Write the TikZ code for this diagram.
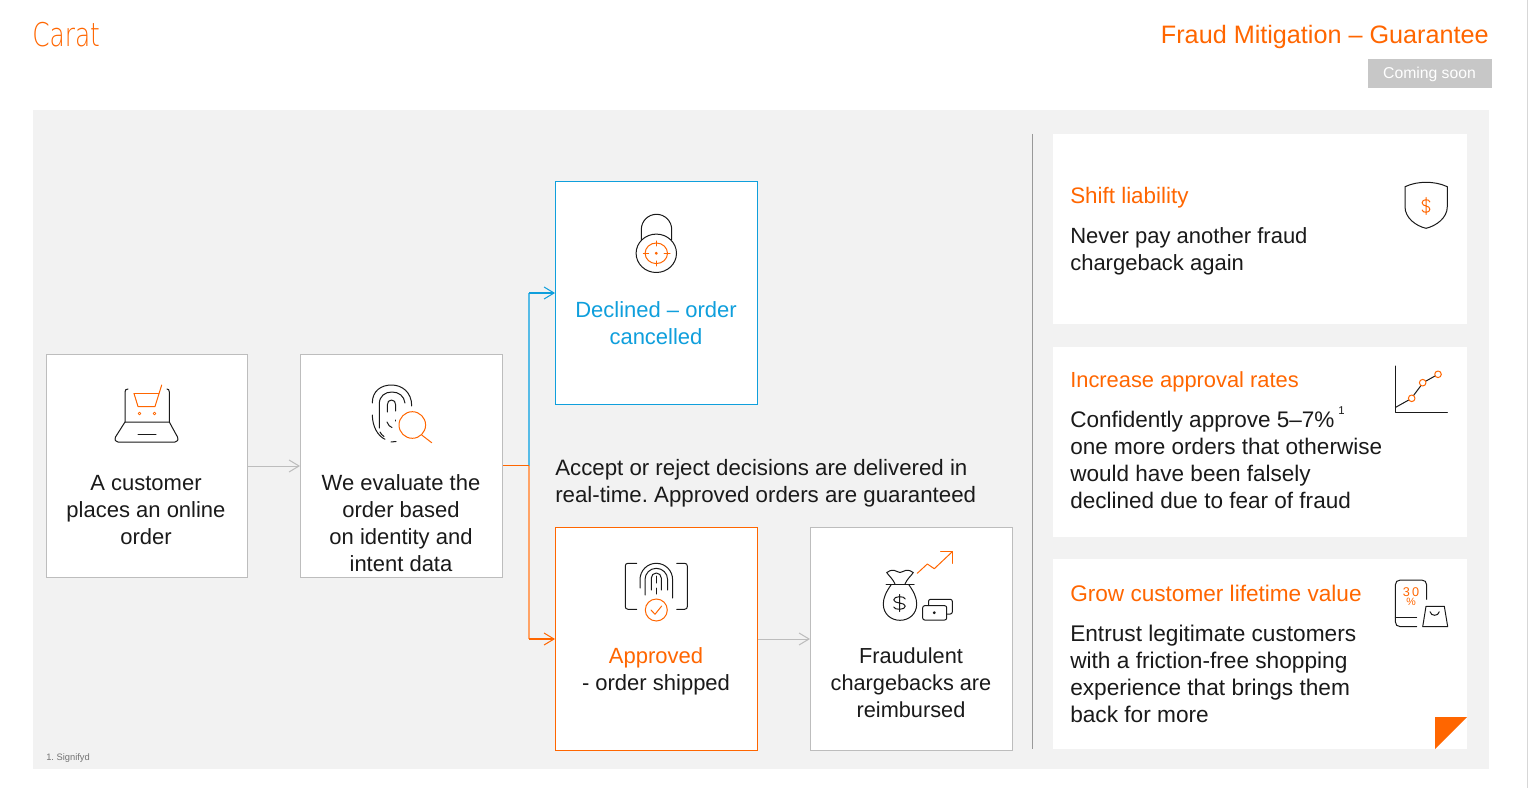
\documentclass[tikz,border=0pt]{standalone}
\usepackage{fontspec}
\setmainfont{Liberation Sans}
\newfontfamily\logofont{DejaVu Sans ExtraLight}
\usetikzlibrary{arrows.meta}
\frenchspacing
\definecolor{carat}{HTML}{FF6600}
\definecolor{sky}{HTML}{0F9FDC}
\definecolor{panel}{HTML}{F2F2F2}
\definecolor{edge}{HTML}{BDBDBD}
\definecolor{ink}{HTML}{1A1A1A}
\newcommand\fs[1]{\fontsize{#1}{20.25}\selectfont}
\newcommand\dollarmark[4]{\draw[#1,shift={(#2)},xscale=#3,yscale=#4] (4.3,-4) .. controls (3.8,-7.2) and (-4.3,-7.2) .. (-4.3,-3.2) .. controls (-4.3,1) and (4.3,-1) .. (4.3,3.2) .. controls (4.3,7.2) and (-3.8,7.2) .. (-4.3,4) (0,-8.5) -- (0,8.5);}
\tikzset{
  x=0.75pt,y=-0.75pt,
  card/.style={draw=#1,fill=white,line width=0.75pt,minimum width=151.5pt,minimum height=167.25pt,inner sep=0pt},
  side/.style={fill=white,minimum width=310.5pt,minimum height=142.5pt,inner sep=0pt},
  body/.style={text=ink,font=\fs{16.5},align=center,inner sep=0pt},
  note/.style={text=ink,font=\fs{16.5},align=left,anchor=west,inner sep=0pt},
  head/.style={text=carat,font=\fs{16.5},anchor=west,inner sep=0pt},
  link/.style={line width=0.9pt,-{Straight Barb[length=7.5pt,width=9pt,line width=0.75pt]}},
  greylink/.style={line width=0.75pt,-{Straight Barb[length=7.5pt,width=9pt,line width=0.75pt]}},
  riser/.style={line width=1.4pt},
  ico/.style={draw=ink,line width=0.75pt,line cap=round,line join=round},
  oico/.style={draw=carat,line width=0.75pt,line cap=round,line join=round},
}
\begin{document}
\begin{tikzpicture}
\useasboundingbox (0,0) rectangle (1529,788);
\fill[white] (0,0) rectangle (1529,788);
\draw[edge!60,line width=0.75pt] (1527,0) -- (1527,788);
\fill[panel] (33,110) rectangle (1489,769);
% header
\node[text=carat,font=\logofont\fontsize{24.5}{28}\selectfont,anchor=west,inner sep=0pt] (logo) at (32,35) {\scalebox{0.76}[1]{Carat}};
\node[text=carat,font=\fontsize{18.9}{24}\selectfont,anchor=east,inner sep=0pt] (title) at (1489,36.5) {Fraud Mitigation – Guarantee};
\node[fill=black!22,text=white,font=\fontsize{11.8}{14}\selectfont,minimum width=93pt,minimum height=21.75pt,inner sep=0pt] (soonbox) at (1430,73.5) {};
\node[text=white,font=\fontsize{11.8}{14}\selectfont,inner sep=0pt] (soon) at (1429.5,74.5) {Coming soon};
% flow cards
\node[card=edge,minimum width=150.75pt] (order) at (147,466) {};
\node[card=edge] (eval) at (401.5,466) {};
\node[card=sky] (declined) at (656.5,293) {};
\node[card=carat] (approved) at (656.5,639) {};
\node[card=edge] (refund) at (911.5,639) {};
% flow text
\node[body] (t1) at (146,510) {A customer\\places an online\\order};
\node[body] (t2) at (401,523.5) {We evaluate the\\order based\\on identity and\\intent data};
\node[body,text=sky] (t3) at (656,323) {Declined – order\\cancelled};
\node[body] (t4) at (656,671.5) {\textcolor{carat}{Approved}\\- order shipped};
\node[body,font=\fs{16.3}] (t5) at (911,683) {Fraudulent\\chargebacks are\\reimbursed};
\node[note,font=\fs{16.7}] (t6) at (555,483.5) {Accept or reject decisions are delivered in\\real-time. Approved orders are guaranteed};
% connectors
\coordinate (fork) at (529.3,465.5);
\draw[greylink,edge] (order.east) -- (eval.west);
\draw[greylink,edge] (approved.east) -- (refund.west);
\draw[riser,carat!60] (fork) -- (fork|-approved.west);
\draw[link,carat] (fork|-approved.west) -- (approved.west);
\draw[riser,sky!70] (fork) -- (fork|-declined.west);
\draw[link,sky] (fork|-declined.west) -- (declined.west);
\draw[line width=0.9pt,carat] (eval.east|-fork) -- (fork);
% divider
\coordinate (divtop) at (1032.5,134);
\coordinate (divbot) at (1032.5,749);
\draw[black!40,line width=0.75pt] (divtop) -- (divbot);
% side cards
\node[side] (s1) at (1260,229) {};
\node[side] (s2) at (1260,442) {};
\node[side] (s3) at (1260,654) {};
\node[head,font=\fs{16.8}] (h1) at (1070,198) {Shift liability};
\node[note] (n1) at (1070,251.5) {Never pay another fraud\\chargeback again};
\node[head,font=\fs{16.4}] (h2) at (1070,382) {Increase approval rates};
\node[note,font=\fs{16.9}] (n2) at (1070,457.5) {Confidently approve 5–7\%\,\raisebox{1.1ex}{\fontsize{8.5}{10}\selectfont 1}\\one more orders that otherwise\\would have been falsely\\declined due to fear of fraud};
\node[head,font=\fs{16.95}] (h3) at (1070,593) {Grow customer lifetime value};
\node[note,font=\fs{17}] (n3) at (1070,673.5) {Entrust legitimate customers\\with a friction-free shopping\\experience that brings them\\back for more};
\fill[carat] (1435,717) -- (1467,717) -- (1435,749) -- cycle;
\node[text=black!55,font=\fontsize{7}{9}\selectfont,anchor=west,inner sep=0pt] (foot) at (46,758) {1. Signifyd};
% laptop icon
\draw[ico] (125,422) -- (125,392) .. controls (125,390) and (126,389) .. (128,389);
\draw[ico] (169.3,422) -- (169.3,392) .. controls (169.3,390) and (168.5,389) .. (167,389);
\draw[ico] (125,422) -- (169.3,422) -- (177.5,437) .. controls (178.5,440) and (177.5,442) .. (175,442) -- (118,442) .. controls (115.5,442) and (114.5,440) .. (115.5,437) -- cycle;
\draw[ico] (138,434.3) -- (156,434.3);
\draw[oico] (134,393.5) -- (159,393.5);
\draw[oico] (134,393.5) -- (138,406.5) -- (155,406.5) -- (161.7,385);
\draw[oico,line width=0.5pt] (139.5,413.5) circle (1.4);
\draw[oico,line width=0.5pt] (154.5,413.5) circle (1.4);
% fingerprint and lens
\draw[ico] (372.3,403) .. controls (372.3,391) and (381,385) .. (391.5,385) .. controls (402,385) and (411.7,392) .. (411.7,406);
\draw[ico] (372.3,415) .. controls (372.5,427) and (378,436) .. (385,439.3);
\draw[ico] (391,442) -- (396,441.5);
\draw[ico] (379.3,428) -- (379.3,404) .. controls (379.3,396) and (385,392) .. (392,392) .. controls (399,392) and (404,396) .. (405,403);
\draw[ico] (387.3,412) -- (387.3,405) .. controls (387.3,402) and (389,400) .. (391.5,400) .. controls (394,400) and (395.7,402) .. (395.7,405) -- (395.7,411);
\draw[ico] (387,422) .. controls (388,425) and (390,427) .. (392,427.5);
\draw[ico] (380,432) .. controls (381,434) and (382,435) .. (384,436.5);
\draw[ico] (395.7,420) -- (395.7,421);
\draw[oico] (412.3,425) circle (13.3);
\draw[oico] (421.7,435) -- (431.7,442.7);
% padlock
\draw[ico] (641.3,240) -- (641.3,229.5) arc[start angle=180,end angle=360,radius=15.2] -- (671.7,240);
\draw[ico,fill=white] (656.3,253.3) ellipse (20.2 and 19.2);
\draw[oico] (656.3,253.3) ellipse (11.2 and 10.3);
\draw[oico] (656.3,241) -- (656.3,246);
\draw[oico] (656.3,261) -- (656.3,266);
\draw[oico] (643.3,253.3) -- (648.7,253.3);
\draw[oico] (664,253.3) -- (670,253.3);
\draw[oico] (656.3,253.3) circle (1);
% approved fingerprint
\draw[ico] (636.7,563.3) -- (628,563.3) .. controls (626,563.3) and (625.3,564.5) .. (625.3,566) -- (625.3,606.5) .. controls (625.3,608) and (626,609.3) .. (628,609.3) -- (636.7,609.3);
\draw[ico] (676.7,563.3) -- (684.6,563.3) .. controls (686.5,563.3) and (687.3,564.5) .. (687.3,566) -- (687.3,606.5) .. controls (687.3,608) and (686.5,609.3) .. (684.6,609.3) -- (676.7,609.3);
\draw[ico] (640,588) -- (640,579.6) arc[start angle=180,end angle=360,radius=16.3] -- (672.6,598);
\draw[ico] (645,595) -- (645,579.6) arc[start angle=180,end angle=360,radius=11.3] -- (667.6,590);
\draw[ico] (651.3,590) -- (651.3,578) arc[start angle=180,end angle=360,radius=5] -- (661.3,590);
\draw[ico] (656.3,576) -- (656.3,583);
\draw[ico] (656.3,588) -- (656.3,594);
\draw[fill=white,draw=carat,line width=0.75pt] (656.3,610) circle (11);
\draw[oico] (651,610) -- (655,614.3) -- (661.7,606);
% money bag
\draw[ico] (886,584) -- (914,584);
\draw[ico] (895,584) .. controls (893,579) and (889,576) .. (886.7,572.5) .. controls (889,570.5) and (892,570) .. (894,570.3) .. controls (896,570.5) and (898,572.5) .. (900,572.5) .. controls (902,572.5) and (904,570.5) .. (906,570.3) .. controls (908,570) and (911,570.5) .. (913.3,572.5) .. controls (911,576) and (907,579) .. (905,584);
\draw[ico] (891,585) .. controls (886,592) and (883.3,598) .. (883.3,604) .. controls (883.3,614) and (891,620.3) .. (900,620.3) .. controls (909,620.3) and (916.7,614) .. (916.7,604) .. controls (916.7,598) and (914,592) .. (909,585);
\dollarmark{ico}{899.5,603}{1.35}{1}
\draw[oico] (917.3,573.3) -- (927.3,564) -- (934.3,568.7) -- (952.3,551.7);
\draw[oico] (940.7,551.7) -- (952.3,551.7) -- (952.3,563.3);
\draw[ico,rounded corners=1.5] (922.7,605.7) rectangle (946.7,620);
\draw[ico,rounded corners=1.5] (928.5,605.7) -- (928.5,599.3) -- (952.3,599.3) -- (952.3,614) -- (946.7,614);
\draw[ico] (934.3,612.7) circle (1);
% shield
\draw[ico] (1405,186.7) .. controls (1412,183.5) and (1419,182.3) .. (1426,182.3) .. controls (1433,182.3) and (1440.5,183.5) .. (1447.3,186.7) -- (1447.3,206.7) .. controls (1447.3,218) and (1436,226) .. (1426,228.3) .. controls (1416,226) and (1405,218) .. (1405,206.7) -- cycle;
\dollarmark{oico}{1426,206}{0.9}{1}
% chart
\draw[ico] (1395.3,366) -- (1395.3,412.3) -- (1447.3,412.3);
\draw[ico] (1395.7,407.3) -- (1408.7,400);
\draw[ico] (1413.5,395.5) -- (1421,385.5);
\draw[ico] (1425.5,381.3) -- (1435,376);
\draw[oico] (1411.7,398.3) circle (3.3);
\draw[oico] (1422.7,382.7) circle (3.3);
\draw[oico] (1438,374.3) circle (3.3);
% phone and bag
\draw[ico] (1426.7,599.3) -- (1426.7,585) .. controls (1426.7,582) and (1424.7,580) .. (1421.7,580) -- (1400.3,580) .. controls (1397.3,580) and (1395.3,582) .. (1395.3,585) -- (1395.3,621.7) .. controls (1395.3,624.7) and (1397.3,626.7) .. (1400.3,626.7) -- (1416.7,626.7);
\draw[ico] (1395.3,617) -- (1416.7,617);
\node[text=carat,font=\fontsize{9.5}{10}\selectfont,inner sep=0pt] (pct30) at (1411,592.5) {3\,0};
\node[text=carat,font=\fontsize{8}{9}\selectfont,inner sep=0pt] (pct) at (1411,602.3) {\%};
\draw[ico] (1426,606.3) -- (1444.3,606.3) -- (1447.7,626.7) -- (1422.7,626.7) -- cycle;
\draw[ico] (1430,611.7) .. controls (1431,616.5) and (1438.3,616.5) .. (1439.3,611.7);
\end{tikzpicture}
\end{document}
